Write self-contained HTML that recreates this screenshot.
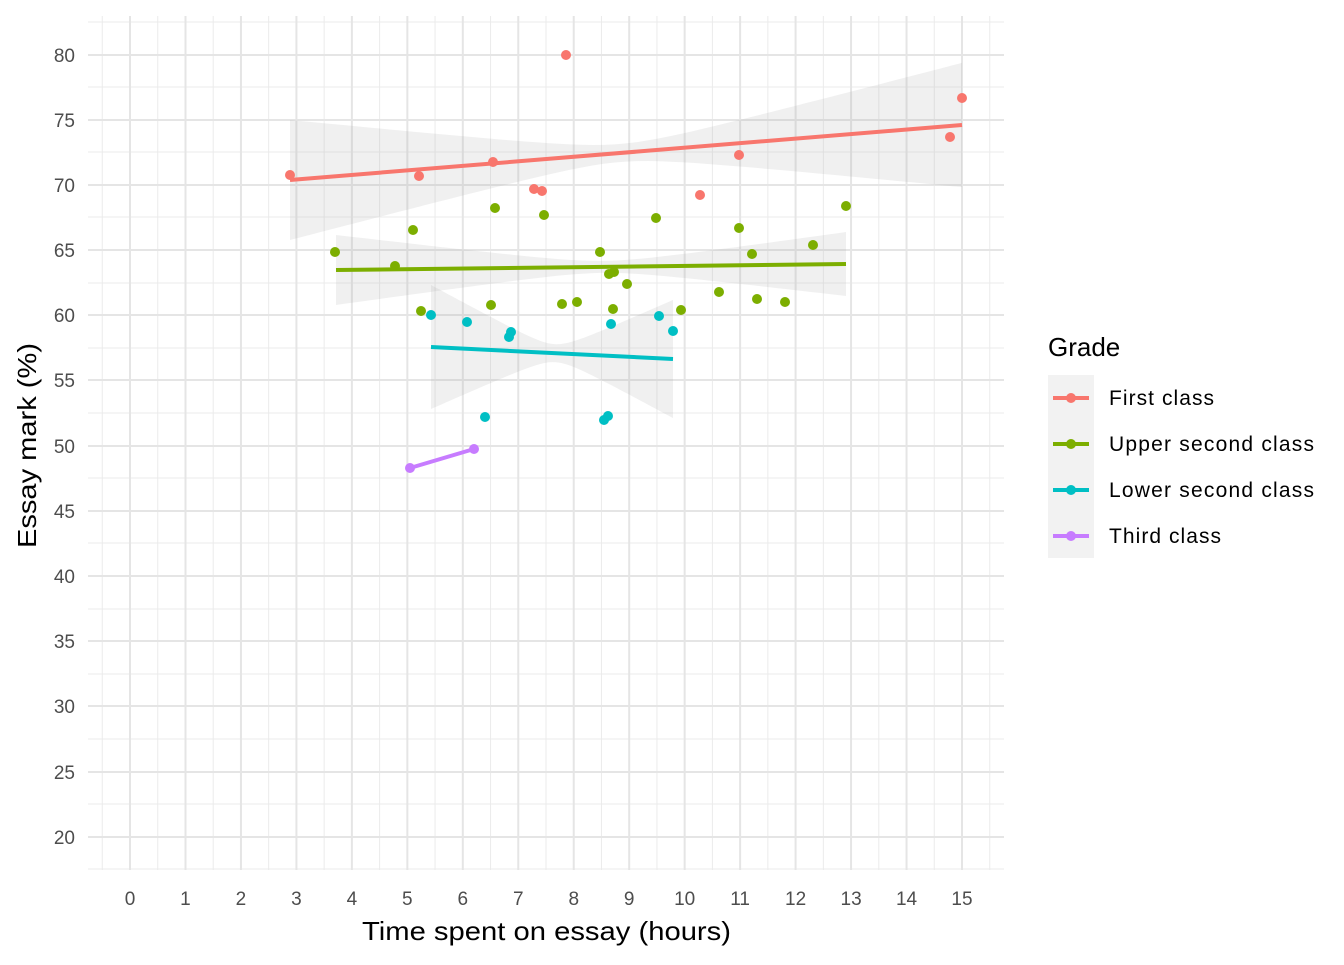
<!DOCTYPE html>
<html><head><meta charset="utf-8"><style>body{margin:0;background:#fff}</style></head><body>
<svg width="1344" height="960" xmlns="http://www.w3.org/2000/svg" font-family="Liberation Sans, sans-serif">
<rect width="1344" height="960" fill="#fff"/>
<g stroke="#ebebeb" stroke-width="1">
<line x1="88" x2="1004" y1="22" y2="22"/><line x1="88" x2="1004" y1="87" y2="87"/><line x1="88" x2="1004" y1="152" y2="152"/><line x1="88" x2="1004" y1="217" y2="217"/><line x1="88" x2="1004" y1="283" y2="283"/><line x1="88" x2="1004" y1="348" y2="348"/><line x1="88" x2="1004" y1="413" y2="413"/><line x1="88" x2="1004" y1="478" y2="478"/><line x1="88" x2="1004" y1="543" y2="543"/><line x1="88" x2="1004" y1="609" y2="609"/><line x1="88" x2="1004" y1="674" y2="674"/><line x1="88" x2="1004" y1="739" y2="739"/><line x1="88" x2="1004" y1="804" y2="804"/><line x1="88" x2="1004" y1="869" y2="869"/>
</g>
<g id="minx" stroke="#ebebeb"></g>
<g id="majx" stroke="#e5e5e5" stroke-width="2"></g>
<g stroke="#e5e5e5" stroke-width="2">
<line x1="88" x2="1004" y1="55" y2="55"/><line x1="88" x2="1004" y1="120" y2="120"/><line x1="88" x2="1004" y1="185" y2="185"/><line x1="88" x2="1004" y1="250" y2="250"/><line x1="88" x2="1004" y1="315" y2="315"/><line x1="88" x2="1004" y1="380" y2="380"/><line x1="88" x2="1004" y1="446" y2="446"/><line x1="88" x2="1004" y1="511" y2="511"/><line x1="88" x2="1004" y1="576" y2="576"/><line x1="88" x2="1004" y1="641" y2="641"/><line x1="88" x2="1004" y1="706" y2="706"/><line x1="88" x2="1004" y1="772" y2="772"/><line x1="88" x2="1004" y1="837" y2="837"/>
</g>
<g id="rib" fill="#999" fill-opacity="0.15"></g>
<g stroke-width="4" fill="none">
<line x1="290" y1="180" x2="962" y2="125" stroke="#f8766d"/>
<line x1="336" y1="270" x2="846" y2="264" stroke="#7cae00"/>
<line x1="431" y1="347" x2="673" y2="359" stroke="#00bfc4"/>
<line x1="410" y1="468" x2="474" y2="449" stroke="#c77cff"/>
</g>
<g fill="#f8766d"><circle cx="290" cy="175" r="5"/><circle cx="419" cy="176" r="5"/><circle cx="493" cy="162" r="5"/><circle cx="534" cy="189" r="5"/><circle cx="542" cy="191" r="5"/><circle cx="566" cy="55" r="5"/><circle cx="700" cy="195" r="5"/><circle cx="739" cy="155" r="5"/><circle cx="950" cy="137" r="5"/><circle cx="962" cy="98" r="5"/></g>
<g fill="#7cae00"><circle cx="335" cy="252" r="5"/><circle cx="395" cy="266" r="5"/><circle cx="413" cy="230" r="5"/><circle cx="421" cy="311" r="5"/><circle cx="491" cy="305" r="5"/><circle cx="495" cy="208" r="5"/><circle cx="544" cy="215" r="5"/><circle cx="562" cy="304" r="5"/><circle cx="577" cy="302" r="5"/><circle cx="600" cy="252" r="5"/><circle cx="609" cy="274" r="5"/><circle cx="614" cy="272" r="5"/><circle cx="613" cy="309" r="5"/><circle cx="627" cy="284" r="5"/><circle cx="656" cy="218" r="5"/><circle cx="681" cy="310" r="5"/><circle cx="719" cy="292" r="5"/><circle cx="739" cy="228" r="5"/><circle cx="752" cy="254" r="5"/><circle cx="757" cy="299" r="5"/><circle cx="785" cy="302" r="5"/><circle cx="813" cy="245" r="5"/><circle cx="846" cy="206" r="5"/></g>
<g fill="#00bfc4"><circle cx="431" cy="315" r="5"/><circle cx="467" cy="322" r="5"/><circle cx="485" cy="417" r="5"/><circle cx="509" cy="337" r="5"/><circle cx="511" cy="332" r="5"/><circle cx="604" cy="420" r="5"/><circle cx="608" cy="416" r="5"/><circle cx="611" cy="324" r="5"/><circle cx="659" cy="316" r="5"/><circle cx="673" cy="331" r="5"/></g>
<g fill="#c77cff"><circle cx="410" cy="468" r="5"/><circle cx="474" cy="449" r="5"/></g>
<g font-size="19" fill="#4d4d4d" text-anchor="end">
<text x="75" y="62">80</text><text x="75" y="127">75</text><text x="75" y="192">70</text><text x="75" y="257">65</text><text x="75" y="322">60</text><text x="75" y="387">55</text><text x="75" y="453">50</text><text x="75" y="518">45</text><text x="75" y="583">40</text><text x="75" y="648">35</text><text x="75" y="713">30</text><text x="75" y="779">25</text><text x="75" y="844">20</text>
</g>
<g id="xt" font-size="19" fill="#4d4d4d" text-anchor="middle"></g>
<text x="362" y="940" font-size="26" textLength="369" lengthAdjust="spacingAndGlyphs">Time spent on essay (hours)</text>
<text transform="translate(36,548) rotate(-90)" font-size="26" textLength="205" lengthAdjust="spacingAndGlyphs">Essay mark (%)</text>
<text x="1048" y="356" font-size="26">Grade</text>
<rect x="1048" y="375" width="46" height="183" fill="#f2f2f2"/>
<g stroke-width="4"><line x1="1053" x2="1089" y1="398" y2="398" stroke="#f8766d"/><line x1="1053" x2="1089" y1="444" y2="444" stroke="#7cae00"/><line x1="1053" x2="1089" y1="490" y2="490" stroke="#00bfc4"/><line x1="1053" x2="1089" y1="536" y2="536" stroke="#c77cff"/></g>
<circle cx="1071" cy="398" r="5" fill="#f8766d"/><circle cx="1071" cy="444" r="5" fill="#7cae00"/><circle cx="1071" cy="490" r="5" fill="#00bfc4"/><circle cx="1071" cy="536" r="5" fill="#c77cff"/>
<g font-size="21" lengthAdjust="spacingAndGlyphs"><text x="1109" y="405" textLength="105">First class</text><text x="1109" y="451" textLength="205">Upper second class</text><text x="1109" y="497" textLength="205">Lower second class</text><text x="1109" y="543" textLength="112">Third class</text></g>
</svg>
<script>
var ns="http://www.w3.org/2000/svg",mi=document.getElementById('minx'),ma=document.getElementById('majx'),xt=document.getElementById('xt');
function L(g,x){var l=document.createElementNS(ns,'line');l.setAttribute('x1',x);l.setAttribute('x2',x);l.setAttribute('y1',16);l.setAttribute('y2',870);g.appendChild(l);}
for(var i=-1;i<=15;i++){L(mi,130+(i+0.5)*55.467);}
for(var i=0;i<=15;i++){var x=130+i*55.467;L(ma,x);var t=document.createElementNS(ns,'text');t.setAttribute('x',x);t.setAttribute('y',905);t.textContent=i;xt.appendChild(t);}
var rib=document.getElementById('rib');
function R(x0,y0,x1,y1,h0,h1,mn){
 var a=mn*mn,best=null;
 for(var c=x0+1;c<x1;c+=1){var b=(h0*h0-a)/Math.pow(x0-c,2);var e=Math.abs(Math.sqrt(a+b*Math.pow(x1-c,2))-h1);if(isFinite(b)&&(!best||e<best.e))best={c:c,b:b,e:e};}
 var top=[],bot=[];
 for(var k=0;k<=60;k++){var x=x0+(x1-x0)*k/60,y=y0+(y1-y0)*(x-x0)/(x1-x0),w=Math.sqrt(a+best.b*Math.pow(x-best.c,2));top.push(x.toFixed(1)+','+(y-w).toFixed(1));bot.unshift(x.toFixed(1)+','+(y+w).toFixed(1));}
 var p=document.createElementNS(ns,'polygon');p.setAttribute('points',top.concat(bot).join(' '));rib.appendChild(p);
}
R(290,180,962,125,60,62,9);
R(336,270,846,264,35,32,6);
R(431,347,673,359,62,59,9);
</script>
</body></html>
